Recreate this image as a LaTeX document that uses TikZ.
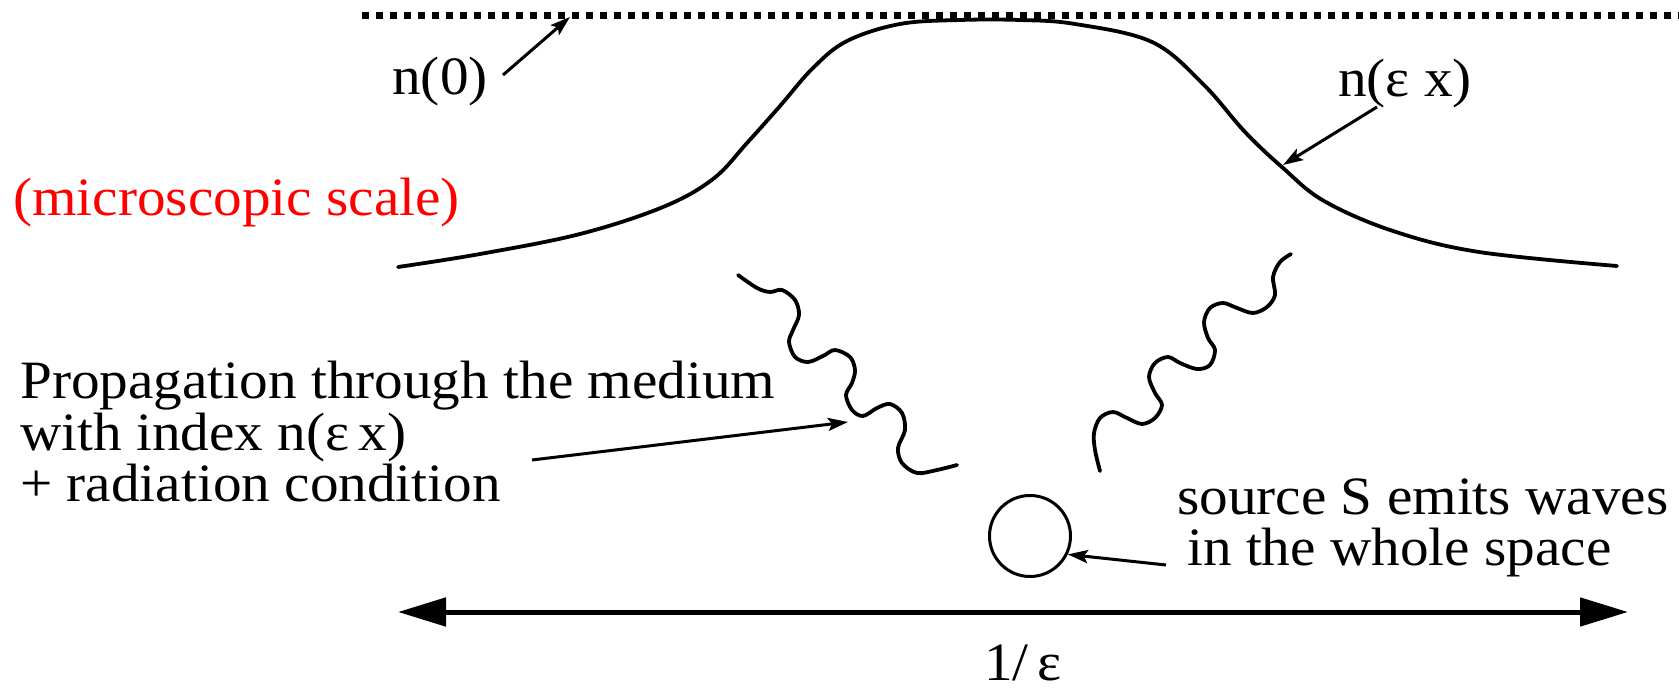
\documentclass[tikz,border=0pt]{standalone}
\usepackage{fontspec}
\setmainfont{Liberation Serif}[FakeStretch=1.06]
\usetikzlibrary{arrows.meta}
\definecolor{labelred}{RGB}{255,0,0}
\tikzset{
  txt/.style={font=\fontsize{54}{55}\selectfont, inner sep=0pt},
  curve/.style={line width=3.8pt, line cap=round, line join=round},
  ptr/.style={line width=3pt, -{Stealth[length=20pt,width=13pt,inset=4pt]}},
  span/.style={line width=5pt, {Triangle[length=48pt,width=28pt]}-{Triangle[length=48pt,width=28pt]}},
  dots/.style={line width=7pt, dash pattern=on 6.5pt off 7.5pt}
}
\begin{document}
\begin{tikzpicture}[x=1pt,y=-1pt]
\useasboundingbox (0,0) rectangle (1679,692);

% dotted level n(0)
\coordinate (dl) at (362,16);
\coordinate (dr) at (1679,16);
\draw[dots] (dl) -- (dr);

% index profile
\draw[curve] plot[smooth, tension=0.6] coordinates {
 (398,267) (480,254) (580,234) (663,207) (713,179) (747,143) (780,106)
 (813,68) (847,41) (900,24) (960,20) (1020,20) (1075,24) (1152,42)
 (1203,84) (1245,132) (1283,168) (1324,201) (1393,231) (1479,252) (1617,266)};

% labels
\node[txt, anchor=base] (n0) at (440,95) {n(0)};
\node[txt, anchor=base] (nex) at (1405,97) {n(ε x)};
\node[txt, text=labelred, anchor=base west] (micro) at (13,216) {(microscopic scale)};

\coordinate (n0s) at (503,75);
\coordinate (n0t) at (570,17);
\draw[ptr] (n0s) -- (n0t);
\coordinate (nexs) at (1377,107);
\coordinate (next) at (1283,165);
\draw[ptr] (nexs) -- (next);

% left wave
\draw[curve] plot[smooth, tension=0.55] coordinates {
 (738,275) (757,288) (770,292) (782,290) (795,300) (799,315) (793,330)
 (789,342) (795,357) (808,362) (823,356) (835,350) (850,357) (855,370)
 (852,383) (846,395) (852,410) (863,416) (877,408) (890,404) (902,413)
 (905,430) (898,448) (902,463) (917,473) (937,470) (957,465)};

% right wave
\draw[curve] plot[smooth, tension=0.55] coordinates {
 (1291,254) (1280,262) (1273,277) (1275,295) (1267,307) (1253,313)
 (1237,308) (1223,303) (1210,308) (1204,322) (1208,338) (1215,350)
 (1210,365) (1197,369) (1180,363) (1168,357) (1155,363) (1149,377)
 (1155,393) (1162,405) (1155,418) (1142,424) (1127,418) (1113,412)
 (1100,418) (1094,433) (1095,450) (1100,471)};

% propagation text
\node[txt, anchor=base west] (p1) at (20,399) {Propagation through the medium};
\node[txt, anchor=base west] (p2) at (20,450) {with index n(ε\,x)};
\node[txt, anchor=base west] (p3) at (20,501) {+ radiation condition};
\coordinate (ps) at (532,460);
\coordinate (pt) at (848,422);
\draw[ptr] (ps) -- (pt);

% source
\node[circle, draw, line width=3pt, minimum size=81pt, inner sep=0pt] (src) at (1030,536) {};
\node[txt, anchor=base west] (s1) at (1177,514) {source S emits waves};
\node[txt, anchor=base west] (s2) at (1187,565) {in the whole space};
\coordinate (ss) at (1166,565);
\draw[ptr] (ss) -- (src.-26);

% scale arrow
\coordinate (al) at (398,612);
\coordinate (ar) at (1628,612);
\draw[span] (al) -- (ar);
\node[txt, anchor=base] (eps) at (1023,680) {1/\,ε};
\end{tikzpicture}
\end{document}
